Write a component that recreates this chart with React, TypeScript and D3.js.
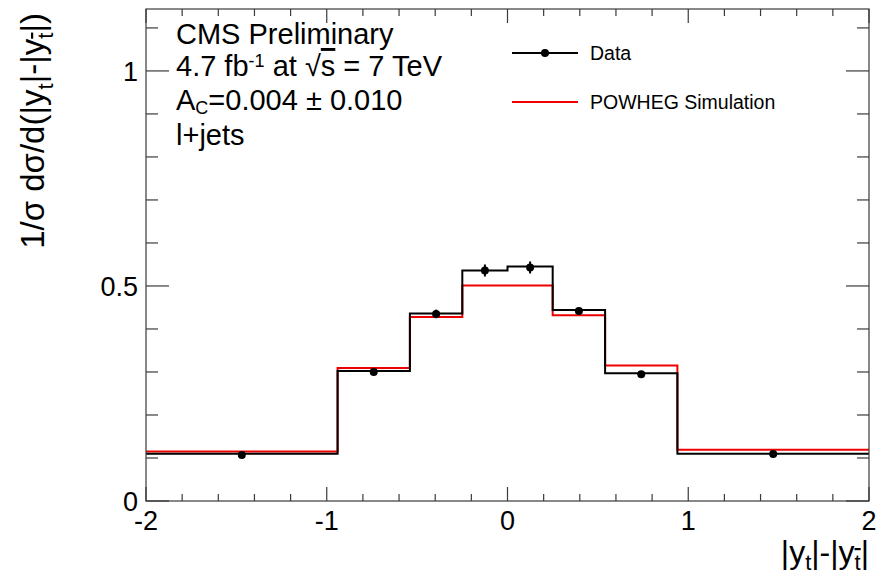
import React from "react";
import * as d3 from "d3";

// ---- data ----
const binEdges = [-2, -0.94, -0.54, -0.25, 0, 0.25, 0.54, 0.94, 2];
const dataHist = [0.110, 0.302, 0.436, 0.536, 0.545, 0.444, 0.297, 0.110];
const dataPoints = [0.107, 0.300, 0.435, 0.536, 0.543, 0.442, 0.295, 0.109];
const dataErr = [0.004, 0.005, 0.010, 0.014, 0.014, 0.007, 0.005, 0.004];
const powhegHist = [0.115, 0.309, 0.428, 0.501, 0.501, 0.432, 0.315, 0.119];
const xMajorTicks = [-2, -1, 0, 1, 2];
const yMajorTicks = [0, 0.5, 1];
const yTickLabels = ["0", "0.5", "1"];

const W = 876;
const H = 575;
const FONT = "'Liberation Sans', Arial, Helvetica, sans-serif";

export default function App() {
  const x = d3.scaleLinear().domain([-2, 2]).range([146, 869]);
  const y = d3.scaleLinear().domain([0, 1.144]).range([501, 9]);

  const xMinor = d3.range(-2, 2.0001, 0.2).map((v) => +v.toFixed(2));
  const yMinor = d3.range(0, 1.1401, 0.1).map((v) => +v.toFixed(2));

  const stepLine = d3
    .line<[number, number]>()
    .x((d) => x(d[0]))
    .y((d) => y(d[1]))
    .curve(d3.curveStepAfter);

  const toSteps = (vals: number[]): [number, number][] => {
    const pts: [number, number][] = vals.map((v, i) => [binEdges[i], v]);
    pts.push([binEdges[binEdges.length - 1], vals[vals.length - 1]]);
    return pts;
  };

  const centers = dataPoints.map((_, i) => (binEdges[i] + binEdges[i + 1]) / 2);

  const x0 = x(-2), x1 = x(2), y0 = y(0), yTop = y(1.144);
  const axisColor = "#3a3a3a";

  return (
    <svg
      width={W}
      height={H}
      style={{ position: "absolute", left: 0, top: 0, background: "#fff" }}
      fontFamily={FONT}
    >
      <rect x={0} y={0} width={W} height={H} fill="#fff" />

      {/* histograms */}
      <path d={stepLine(toSteps(powhegHist)) || ""} fill="none" stroke="#ee0000" strokeWidth={2} />
      <path d={stepLine(toSteps(dataHist)) || ""} fill="none" stroke="#000" strokeWidth={2} />

      {/* data points */}
      {dataPoints.map((v, i) => (
        <g key={i}>
          <line
            x1={x(centers[i])}
            x2={x(centers[i])}
            y1={y(v - dataErr[i])}
            y2={y(v + dataErr[i])}
            stroke="#000"
            strokeWidth={2}
          />
          <circle cx={x(centers[i])} cy={y(v)} r={4} fill="#000" />
        </g>
      ))}

      {/* frame */}
      <rect x={x0} y={yTop} width={x1 - x0} height={y0 - yTop} fill="none" stroke={axisColor} strokeWidth={1.2} />

      {/* x ticks bottom & top */}
      {xMinor.map((t) => {
        const major = xMajorTicks.some((m) => Math.abs(m - t) < 1e-6);
        const len = major ? 14 : 7;
        return (
          <g key={"xt" + t}>
            <line x1={x(t)} x2={x(t)} y1={y0} y2={y0 - len} stroke={axisColor} strokeWidth={1.2} />
            <line x1={x(t)} x2={x(t)} y1={yTop} y2={yTop + len} stroke={axisColor} strokeWidth={1.2} />
          </g>
        );
      })}
      {/* y ticks left & right */}
      {yMinor.map((t) => {
        const major = yMajorTicks.some((m) => Math.abs(m - t) < 1e-6);
        const len = major ? 23 : 12;
        return (
          <g key={"yt" + t}>
            <line x1={x0} x2={x0 + len} y1={y(t)} y2={y(t)} stroke={axisColor} strokeWidth={1.2} />
            <line x1={x1} x2={x1 - len} y1={y(t)} y2={y(t)} stroke={axisColor} strokeWidth={1.2} />
          </g>
        );
      })}

      {/* tick labels */}
      {xMajorTicks.map((t) => (
        <text key={"xl" + t} x={x(t)} y={530} fontSize={27} textAnchor="middle" fill="#000">
          {t < 0 ? "-" + Math.abs(t) : String(t)}
        </text>
      ))}
      {yMajorTicks.map((t, i) => (
        <text key={"yl" + t} x={138} y={y(t) + 10} fontSize={27} textAnchor="end" fill="#000">
          {yTickLabels[i]}
        </text>
      ))}

      {/* axis titles */}
      <text x={869} y={563} fontSize={32} textAnchor="end" fill="#000">
        |y<tspan fontSize={22} dy={7}>t</tspan>
        <tspan dy={-7}>|-|y</tspan>
        <tspan fontSize={22} dy={7} textDecoration="overline">t</tspan>
        <tspan dy={-7}>|</tspan>
      </text>
      <text
        transform="translate(44,13) rotate(-90)"
        fontSize={33}
        textAnchor="end"
        fill="#000"
      >
        1/σ dσ/d(|y<tspan fontSize={22} dy={9}>t</tspan>
        <tspan dy={-9}>|-|y</tspan>
        <tspan fontSize={22} dy={9} textDecoration="overline">t</tspan>
        <tspan dy={-9}>|)</tspan>
      </text>

      {/* header text */}
      <text x={176} y={44} fontSize={29} fill="#000">CMS Preliminary</text>
      <text x={176} y={76} fontSize={29} fill="#000">
        4.7 fb<tspan fontSize={18} dy={-9}>-1</tspan>
        <tspan dy={9}> at </tspan>
        <tspan>√</tspan>
        <tspan textDecoration="overline">s</tspan>
        <tspan> = 7 TeV</tspan>
      </text>
      <text x={176} y={110} fontSize={29} fill="#000">
        A<tspan fontSize={18} dy={4}>C</tspan>
        <tspan dy={-4}>=0.004 ± 0.010</tspan>
      </text>
      <text x={176} y={145} fontSize={29} fill="#000">l+jets</text>

      {/* legend */}
      <line x1={512} x2={578} y1={53} y2={53} stroke="#000" strokeWidth={2} />
      <circle cx={545} cy={53} r={4} fill="#000" />
      <text x={590} y={60} fontSize={19.5} fill="#000">Data</text>
      <line x1={512} x2={578} y1={102} y2={102} stroke="#ee0000" strokeWidth={2} />
      <text x={590} y={109} fontSize={19.5} fill="#000">POWHEG Simulation</text>
    </svg>
  );
}
